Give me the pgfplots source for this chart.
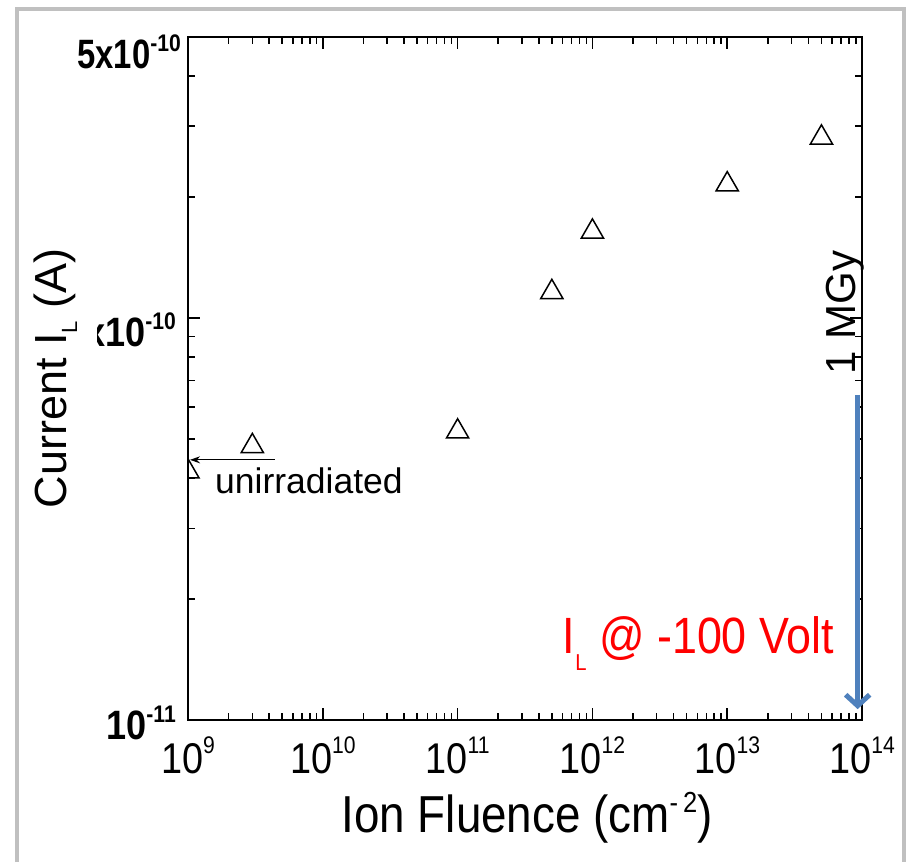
\documentclass[border=0pt]{standalone}
\usepackage{fontspec}
\setmainfont{Liberation Sans}
\newfontfamily\fn[FakeStretch=0.88]{Liberation Sans}
\newfontfamily\fnn[FakeStretch=0.8]{Liberation Sans}
\usepackage{pgfplots}
\pgfplotsset{compat=1.18}
\usetikzlibrary{arrows.meta}
\definecolor{framegray}{HTML}{C0C0C0}
\definecolor{arrowblue}{HTML}{4F81BD}
\newcommand\xt[1]{{\fn\fontsize{43}{43}\selectfont 10\raisebox{20pt}{\fontsize{24}{24}\selectfont #1}}}
\newcommand\yt[1]{{\fn\bfseries\fontsize{41}{41}\selectfont #1}}
\newcommand\ysup[1]{\raisebox{17pt}{\fontsize{24}{24}\selectfont #1}}
\begin{document}
\begin{tikzpicture}
\useasboundingbox (0,0) rectangle (907pt,862pt);
\fill[white] (0,0) rectangle (907pt,862pt);
\begin{axis}[
  at={(188pt,142pt)}, anchor=south west,
  scale only axis, width=674pt, height=683pt,
  xmode=log, ymode=log,
  xmin=1e9, xmax=1e14, ymin=1e-11, ymax=5e-10,
  axis line style={line width=2pt},
  every tick/.style={black, line width=1.5pt},
  major tick length=12pt, minor tick length=7pt,
  tick align=inside,
  xtick={1e9,1e10,1e11,1e12,1e13,1e14},
  xticklabels={\xt{9},\xt{10},\xt{11},\xt{12},\xt{13},\xt{14}},
  minor xtick={2e9,3e9,4e9,5e9,6e9,7e9,8e9,9e9,
    2e10,3e10,4e10,5e10,6e10,7e10,8e10,9e10,
    2e11,3e11,4e11,5e11,6e11,7e11,8e11,9e11,
    2e12,3e12,4e12,5e12,6e12,7e12,8e12,9e12,
    2e13,3e13,4e13,5e13,6e13,7e13,8e13,9e13},
  ytick={1e-11,1e-10,5e-10},
  yticklabels={\yt{\raisebox{5pt}{10\ysup{-11}}},\yt{\raisebox{-4pt}{1x10\ysup{-10}}},{\fnn\bfseries\fontsize{41}{41}\selectfont\raisebox{-7pt}{5x10\raisebox{17pt}{\fn\fontsize{24}{24}\selectfont -10}\kern-5pt}}},
  minor ytick={2e-11,3e-11,4e-11,5e-11,6e-11,7e-11,8e-11,9e-11,2e-10,3e-10,4e-10},
  xticklabel style={anchor=base, yshift=-53pt, inner sep=0pt},
  yticklabel style={anchor=base east, inner sep=0pt, xshift=-12pt, yshift=-24pt},
  xlabel={\fn\fontsize{52}{52}\selectfont Ion Fluence (cm\raisebox{20pt}{\fontsize{29}{29}\selectfont -\,2})},
  xlabel style={at={(rel axis cs:0.503,-0.165)}, anchor=base, inner sep=0pt},
  ylabel={\fontsize{45}{45}\selectfont Current I\raisebox{-11pt}{\fontsize{22}{22}\selectfont L} (A)},
  ylabel style={at={(rel axis cs:-0.181,0.50)}, anchor=base, fill=white, inner sep=0pt, text depth=31pt},
  clip mode=individual,
  clip marker paths=true,
]
\addplot[only marks, mark=triangle, mark size=12.8pt, mark options={line width=1.5pt, black, fill=none}]
  coordinates {(3e9,4.8e-11) (1e11,5.22e-11) (5e11,1.16e-10) (1e12,1.64e-10) (1e13,2.15e-10) (5e13,2.81e-10)};
\addplot[only marks, mark=triangle, mark size=12.8pt, mark options={line width=1.5pt, black, fill=none}]
  coordinates {(1e9,4.15e-11)};
\draw[-{Stealth[length=10pt,width=7pt]}, line width=1.2pt] (rel axis cs:0.129,0.381) -- (rel axis cs:0.003,0.381);
\node[anchor=base west, inner sep=0pt] at (rel axis cs:0.040,0.331) {\fontsize{35.5}{35.5}\selectfont unirradiated};
\draw[arrowblue, line width=5pt, -{Straight Barb[length=11pt,width=24pt]}] (rel axis cs:0.9935,0.476) -- (rel axis cs:0.9935,0.016);
\node[rotate=90, anchor=base, inner sep=0pt] at (rel axis cs:0.991,0.597) {\fontsize{42}{42}\selectfont 1 MGy};
\node[red, anchor=base west, inner sep=0pt] at (rel axis cs:0.556,0.098) {\fn\fontsize{51}{51}\selectfont I\raisebox{-17pt}{\fontsize{23}{23}\selectfont L} @ -100 Volt};
\end{axis}
\draw[framegray, line width=4pt] (17pt,0pt) -- (17pt,853pt) -- (904pt,853pt) -- (904pt,0pt);
\end{tikzpicture}
\end{document}
